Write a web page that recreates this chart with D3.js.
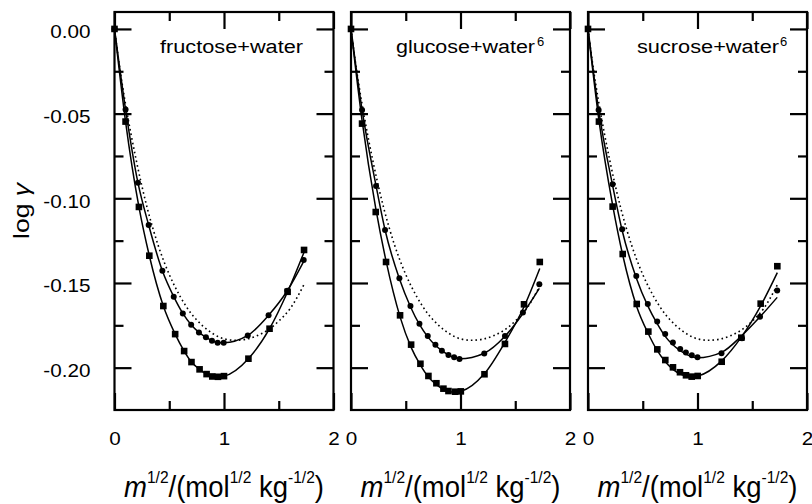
<!DOCTYPE html>
<html>
<head>
<meta charset="utf-8">
<script src="https://cdn.jsdelivr.net/npm/d3@7"></script>
<style>
body { margin: 0; background: #fff; }
text { font-family: "Liberation Sans", Arial, sans-serif; fill: #000; }
</style>
</head>
<body>
<div class="chart"></div>
<script>
// panel names and reference marks
var panelNames = ["fructose+water", "glucose+water", "sucrose+water"];
var panelRefs = ["", "6", "6"];

// tick values / labels
var xMajor = [0, 1, 2];
var xMinor = [0.5, 1.5];
var yMajor = [0, -0.05, -0.10, -0.15, -0.20];
var yMinor = [-0.025, -0.075, -0.125, -0.175];
var yTickLabels = ["0.00", "-0.05", "-0.10", "-0.15", "-0.20"];
var xTickLabels = ["0", "1", "2"];

// fructose + water
var fruSqX = [0, 0.101, 0.223, 0.318, 0.446, 0.554, 0.636, 0.703, 0.777, 0.841, 0.893, 0.945, 1.0, 1.223, 1.416, 1.581, 1.731];
var fruSqY = [0, -0.0547, -0.1051, -0.1339, -0.1636, -0.1802, -0.1902, -0.1967, -0.2010, -0.2038, -0.2052, -0.2054, -0.2050, -0.1947, -0.1770, -0.1552, -0.1305];
var fruSqLine = [0, -0.0547, -0.1051, -0.1339, -0.1636, -0.1802, -0.1902, -0.1967, -0.2010, -0.2038, -0.2050, -0.2054, -0.2050, -0.1947, -0.1770, -0.1552, -0.1318];
var fruCiX = [0, 0.101, 0.214, 0.312, 0.437, 0.541, 0.624, 0.700, 0.771, 0.835, 0.890, 0.942, 0.997, 1.217, 1.407, 1.578, 1.728];
var fruCiY = [0, -0.0475, -0.0908, -0.1158, -0.1428, -0.1581, -0.1680, -0.1747, -0.1792, -0.1821, -0.1841, -0.1853, -0.1853, -0.1810, -0.1691, -0.1546, -0.1365];
var fruCiLine = [0, -0.0475, -0.0908, -0.1158, -0.1428, -0.1581, -0.1680, -0.1747, -0.1792, -0.1821, -0.1841, -0.1851, -0.1853, -0.1810, -0.1691, -0.1546, -0.1372];

// glucose + water
var gluSqX = [0, 0.101, 0.226, 0.320, 0.448, 0.549, 0.634, 0.707, 0.780, 0.844, 0.890, 0.951, 1.003, 1.219, 1.406, 1.580, 1.724];
var gluSqY = [0, -0.0559, -0.1081, -0.1376, -0.1691, -0.1864, -0.1977, -0.2049, -0.2092, -0.2124, -0.2138, -0.2142, -0.2140, -0.2039, -0.1860, -0.1626, -0.1376];
var gluSqLine = [0, -0.0540, -0.1060, -0.1370, -0.1700, -0.1880, -0.1985, -0.2055, -0.2100, -0.2128, -0.2140, -0.2145, -0.2140, -0.2035, -0.1850, -0.1640, -0.1414];
var gluCiX = [0, 0.101, 0.229, 0.311, 0.442, 0.543, 0.625, 0.701, 0.771, 0.830, 0.890, 0.942, 0.991, 1.217, 1.406, 1.570, 1.720];
var gluCiY = [0, -0.0478, -0.0927, -0.1187, -0.1472, -0.1636, -0.1740, -0.1813, -0.1864, -0.1900, -0.1925, -0.1939, -0.1949, -0.1917, -0.1813, -0.1675, -0.1508];
var gluCiLine = [0, -0.0478, -0.0927, -0.1187, -0.1475, -0.1640, -0.1745, -0.1818, -0.1868, -0.1900, -0.1925, -0.1940, -0.1948, -0.1915, -0.1815, -0.1680, -0.1532];

// sucrose + water
var sucSqX = [0, 0.100, 0.225, 0.317, 0.445, 0.551, 0.633, 0.706, 0.776, 0.840, 0.895, 0.947, 1.002, 1.221, 1.400, 1.577, 1.729];
var sucSqY = [0, -0.0547, -0.1049, -0.1329, -0.1624, -0.1787, -0.1892, -0.1955, -0.1998, -0.2027, -0.2045, -0.2053, -0.2049, -0.1965, -0.1823, -0.1622, -0.1401];
var sucSqLine = [0, -0.0540, -0.1040, -0.1335, -0.1640, -0.1800, -0.1900, -0.1965, -0.2010, -0.2037, -0.2050, -0.2055, -0.2050, -0.1960, -0.1820, -0.1635, -0.1439];
var sucCiX = [0, 0.097, 0.225, 0.312, 0.441, 0.546, 0.632, 0.705, 0.775, 0.842, 0.894, 0.948, 1.0, 1.219, 1.406, 1.571, 1.728];
var sucCiY = [0, -0.0478, -0.0917, -0.1183, -0.1459, -0.1624, -0.1728, -0.1801, -0.1852, -0.1890, -0.1911, -0.1927, -0.1939, -0.1915, -0.1827, -0.1699, -0.1545];
var sucCiLine = [0, -0.0478, -0.0925, -0.1190, -0.1470, -0.1635, -0.1740, -0.1815, -0.1865, -0.1900, -0.1920, -0.1935, -0.1942, -0.1910, -0.1810, -0.1700, -0.1585];

// dotted reference curve (same in all panels)
var refX = [0, 0.05, 0.1, 0.2, 0.3, 0.4, 0.5, 0.6, 0.7, 0.8, 0.9, 1.0, 1.1, 1.2, 1.3, 1.4, 1.5, 1.6, 1.73];
var refY = [0, -0.024, -0.044, -0.078, -0.106, -0.128, -0.145, -0.158, -0.168, -0.175, -0.180, -0.183, -0.1838, -0.1832, -0.1812, -0.1778, -0.1725, -0.1655, -0.1510];

var panels = [
    {sqX: fruSqX, sqY: fruSqY, sqLine: fruSqLine, ciX: fruCiX, ciY: fruCiY, ciLine: fruCiLine},
    {sqX: gluSqX, sqY: gluSqY, sqLine: gluSqLine, ciX: gluCiX, ciY: gluCiY, ciLine: gluCiLine},
    {sqX: sucSqX, sqY: sucSqY, sqLine: sucSqLine, ciX: sucCiX, ciY: sucCiY, ciLine: sucCiLine}
];

// layout
var panelLeft = [114.5, 351, 588];
var panelWidth = 219;
var plotTop = 12, plotBottom = 410;
var labX = [160, 396, 637], labW = [143, 139, 142], supX = [0, 537, 780];
var stretch = 1.15; // tick labels in the source are a bit wide

var svg = d3.select(".chart").append("svg")
    .attr("width", 812)
    .attr("height", 504);

var y = d3.scaleLinear().domain([-0.225, 0.01]).range([plotBottom, plotTop]);

function zip(a, b) {
    return a.map(function (v, i) { return [v, b[i]]; });
}

function styleAxis(g) {
    g.select(".domain").remove();
    g.selectAll("line").attr("stroke", "#000").attr("stroke-width", 2.2);
    g.attr("font-family", null).attr("font-size", null);
    g.selectAll("text").attr("fill", "#000").style("font-size", "18px")
        .attr("transform", "scale(" + stretch + ",1)");
}

panels.forEach(function (p, i) {
    var x = d3.scaleLinear().domain([0, 2]).range([panelLeft[i], panelLeft[i] + panelWidth]);
    var g = svg.append("g");
    var right = panelLeft[i] + panelWidth;

    // ticks, all pointing inward
    g.append("g").attr("transform", "translate(0," + plotBottom + ")")
        .call(d3.axisBottom(x).tickValues(xMajor).tickSize(-17).tickPadding(22)
            .tickFormat(function (d, k) { return xTickLabels[k]; }))
        .call(styleAxis);
    g.append("g").attr("transform", "translate(0," + plotBottom + ")")
        .call(d3.axisBottom(x).tickValues(xMinor).tickSize(-9).tickFormat(""))
        .call(styleAxis);
    g.append("g").attr("transform", "translate(0," + plotTop + ")")
        .call(d3.axisTop(x).tickValues(xMajor).tickSize(-17).tickFormat(""))
        .call(styleAxis);
    g.append("g").attr("transform", "translate(0," + plotTop + ")")
        .call(d3.axisTop(x).tickValues(xMinor).tickSize(-9).tickFormat(""))
        .call(styleAxis);

    var yl = g.append("g").attr("transform", "translate(" + panelLeft[i] + ",0)")
        .call(d3.axisLeft(y).tickValues(yMajor).tickSize(-17)
            .tickFormat(function (d, k) { return i === 0 ? yTickLabels[k] : ""; }))
        .call(styleAxis);
    yl.selectAll("text").attr("x", -24 / stretch).attr("dy", "0.5em");
    g.append("g").attr("transform", "translate(" + panelLeft[i] + ",0)")
        .call(d3.axisLeft(y).tickValues(yMinor).tickSize(-9).tickFormat(""))
        .call(styleAxis);
    g.append("g").attr("transform", "translate(" + right + ",0)")
        .call(d3.axisRight(y).tickValues(yMajor).tickSize(-17).tickFormat(""))
        .call(styleAxis);
    g.append("g").attr("transform", "translate(" + right + ",0)")
        .call(d3.axisRight(y).tickValues(yMinor).tickSize(-9).tickFormat(""))
        .call(styleAxis);

    // frame
    g.append("rect")
        .attr("x", panelLeft[i]).attr("y", plotTop)
        .attr("width", panelWidth).attr("height", plotBottom - plotTop)
        .attr("fill", "none").attr("stroke", "#000").attr("stroke-width", 2.2);

    var line = d3.line()
        .x(function (d) { return x(d[0]); })
        .y(function (d) { return y(d[1]); })
        .curve(d3.curveMonotoneX);

    g.append("path").datum(zip(refX, refY))
        .attr("d", line).attr("fill", "none").attr("stroke", "#000")
        .attr("stroke-width", 1.6).attr("stroke-dasharray", "1.6,3");
    g.append("path").datum(zip(p.ciX, p.ciLine))
        .attr("d", line).attr("fill", "none").attr("stroke", "#000").attr("stroke-width", 1.5);
    g.append("path").datum(zip(p.sqX, p.sqLine))
        .attr("d", line).attr("fill", "none").attr("stroke", "#000").attr("stroke-width", 1.5);

    g.selectAll(".ci").data(zip(p.ciX, p.ciY)).enter().append("circle")
        .attr("cx", function (d) { return x(d[0]); })
        .attr("cy", function (d) { return y(d[1]); })
        .attr("r", 3).attr("fill", "#000");
    g.selectAll(".sq").data(zip(p.sqX, p.sqY)).enter().append("rect")
        .attr("x", function (d) { return x(d[0]) - 3.3; })
        .attr("y", function (d) { return y(d[1]) - 3.3; })
        .attr("width", 6.6).attr("height", 6.6).attr("fill", "#000");

    // panel label
    g.append("text").attr("x", labX[i]).attr("y", 53)
        .attr("font-size", 18)
        .attr("textLength", labW[i]).attr("lengthAdjust", "spacingAndGlyphs")
        .text(panelNames[i]);
    if (panelRefs[i]) {
        g.append("text").attr("x", supX[i]).attr("y", 46)
            .attr("font-size", 13).text(panelRefs[i]);
    }

    // x axis title
    var t = g.append("text").attr("font-size", 30).attr("text-anchor", "middle");
    t.append("tspan").attr("font-style", "italic").text("m");
    t.append("tspan").attr("font-size", 17).attr("dy", -14).text("1/2");
    t.append("tspan").attr("dy", 14).text("/(mol");
    t.append("tspan").attr("font-size", 17).attr("dy", -14).text("1/2");
    t.append("tspan").attr("dy", 14).text(" kg");
    t.append("tspan").attr("font-size", 17).attr("dy", -14).text("-1/2");
    t.append("tspan").attr("dy", 14).text(")");
    var w = t.node().getComputedTextLength();
    t.attr("transform", "translate(" + x(1) + ",497) scale(" + (200 / w) + ",1)");
});

// y axis title
var yt = svg.append("text")
    .attr("transform", "translate(29,211) rotate(-90)")
    .attr("text-anchor", "middle")
    .attr("font-size", 22)
    .attr("textLength", 56).attr("lengthAdjust", "spacingAndGlyphs");
yt.append("tspan").text("log ");
yt.append("tspan").attr("font-style", "italic").text("γ");
</script>
</body>
</html>
